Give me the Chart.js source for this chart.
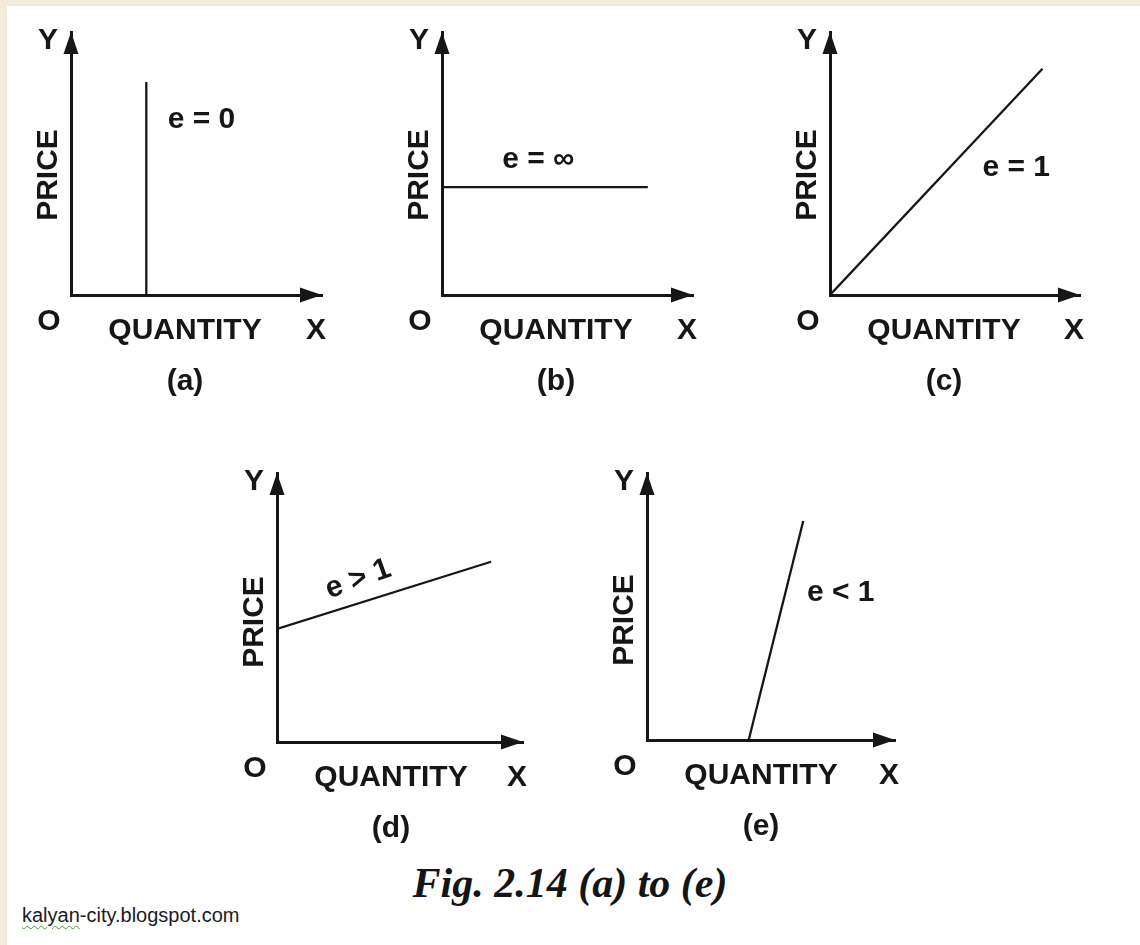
<!DOCTYPE html>
<html>
<head>
<meta charset="utf-8">
<title>Fig. 2.14 (a) to (e)</title>
<script src="https://cdn.jsdelivr.net/npm/chart.js"></script>
<style>
  html, body { margin: 0; padding: 0; }
  body {
    width: 1140px;
    height: 945px;
    background: #ffffff;
    position: relative;
    overflow: hidden;
  }
  .edge-top { position: absolute; left: 0; top: 0; width: 1140px; height: 6px; background: #f4ecda; }
  .edge-left { position: absolute; left: 0; top: 0; width: 7px; height: 945px; background: #f4ecda; }
  canvas { position: absolute; }
  .caption {
    position: absolute;
    left: 0;
    width: 1140px;
    top: 862px;
    text-align: center;
    font: italic bold 42px "Liberation Serif", serif;
    line-height: 1;
    color: #151515;
  }
  .source {
    position: absolute;
    left: 22px;
    top: 905px;
    font: 20px "Liberation Sans", Arial, sans-serif;
    line-height: 1;
    color: #1c1c1c;
  }
  .source .typo {
    text-decoration: underline wavy #4a9a3a;
    text-decoration-thickness: 1px;
    text-underline-offset: 3px;
  }
</style>
</head>
<body>
<div class="edge-top"></div>
<div class="edge-left"></div>
<div class="caption">Fig. 2.14 (a) to (e)</div>
<div class="source"><span class="typo">kalyan</span>-city.blogspot.com</div>

<script>
// axis runs 0..axisMax, axisMax sits at the arrow tips
const axisMax = 10;

// (a) perfectly inelastic
const aQty = [3, 3];
const aPrice = [0, 8.1];
// (b) perfectly elastic
const bQty = [0, 8.2];
const bPrice = [4.1, 4.1];
// (c) unitary
const cQty = [0, 8.5];
const cPrice = [0, 8.6];
// (d) elastic
const dQty = [0, 8.7];
const dPrice = [4.2, 6.7];
// (e) inelastic
const eQty = [4.1, 6.3];
const ePrice = [0, 8.2];

const panelTags = ['(a)', '(b)', '(c)', '(d)', '(e)'];
const curveLabels = ['e = 0', 'e = \u221E', 'e = 1', 'e > 1', 'e < 1'];
const curveLabelQty = [3.85, 2.4, 6.1, 3.3, 6.45];
const curveLabelPrice = [6.65, 5.13, 4.83, 6.05, 5.5];
const curveLabelTilted = [false, false, false, true, false];

const xAxisTitle = 'QUANTITY';
const yAxisTitle = 'PRICE';

const ink = '#161616';

// where each little diagram sits on the page (origin and arrow tips)
const panelBoxes = [
  { ox: 71,  oy: 295, tipX: 322, tipY: 32 },
  { ox: 442, oy: 295, tipX: 693, tipY: 32 },
  { ox: 830, oy: 295, tipX: 1080, tipY: 32 },
  { ox: 277, oy: 742, tipX: 523, tipY: 473 },
  { ox: 647, oy: 740, tipX: 895, tipY: 473 }
];

const seriesQty = [aQty, bQty, cQty, dQty, eQty];
const seriesPrice = [aPrice, bPrice, cPrice, dPrice, ePrice];

const PAD = { left: 50, top: 25, right: 25, bottom: 110 };

// arrows, axis letters and labels
const figureDecor = {
  id: 'figureDecor',
  afterDraw(chart, args, opts) {
    const { ctx } = chart;
    const x = chart.scales.x;
    const y = chart.scales.y;
    const ox = x.getPixelForValue(0);
    const oy = y.getPixelForValue(0);
    const tipX = x.getPixelForValue(axisMax);
    const tipY = y.getPixelForValue(axisMax);

    ctx.save();
    ctx.fillStyle = ink;

    // arrow heads
    ctx.beginPath();
    ctx.moveTo(tipX, oy);
    ctx.lineTo(tipX - 22, oy - 7.5);
    ctx.lineTo(tipX - 22, oy + 7.5);
    ctx.closePath();
    ctx.fill();

    ctx.beginPath();
    ctx.moveTo(ox, tipY);
    ctx.lineTo(ox - 7.5, tipY + 22);
    ctx.lineTo(ox + 7.5, tipY + 22);
    ctx.closePath();
    ctx.fill();

    ctx.font = 'bold 30px "Liberation Sans", Arial, sans-serif';
    ctx.textAlign = 'center';
    ctx.textBaseline = 'middle';
    ctx.fillText('Y', ox - 23, tipY + 9);
    ctx.fillText('O', ox - 22, oy + 27);
    ctx.fillText(xAxisTitle, ox + 114, oy + 36);
    ctx.fillText('X', tipX - 6, oy + 36);
    ctx.fillText(opts.tag, ox + 114, oy + 87);

    ctx.save();
    ctx.translate(ox - 22, oy - 120);
    ctx.rotate(-Math.PI / 2);
    ctx.fillText(yAxisTitle, 0, 0);
    ctx.restore();

    // elasticity label next to the curve
    const lx = x.getPixelForValue(opts.labelQty);
    const ly = y.getPixelForValue(opts.labelPrice);
    if (opts.tilted) {
      const q = opts.qty, p = opts.price;
      const ang = Math.atan2(
        y.getPixelForValue(p[1]) - y.getPixelForValue(p[0]),
        x.getPixelForValue(q[1]) - x.getPixelForValue(q[0])
      );
      ctx.save();
      ctx.translate(lx, ly);
      ctx.rotate(ang - 0.04);
      ctx.fillText(opts.text, 0, 0);
      ctx.restore();
    } else {
      ctx.textAlign = 'left';
      ctx.fillText(opts.text, lx, ly);
    }
    ctx.restore();
  }
};

const bareAxis = {
  type: 'linear',
  min: 0,
  max: axisMax,
  grid: { display: false, drawTicks: false, tickLength: 0 },
  ticks: { display: false },
  border: { display: true, color: ink, width: 3 }
};

panelBoxes.forEach((box, i) => {
  const left = box.ox - PAD.left;
  const top = box.tipY - PAD.top;
  const width = box.tipX + PAD.right - left;
  const height = box.oy + PAD.bottom - top;

  const canvas = document.createElement('canvas');
  canvas.width = width;
  canvas.height = height;
  canvas.style.left = left + 'px';
  canvas.style.top = top + 'px';
  canvas.style.width = width + 'px';
  canvas.style.height = height + 'px';
  document.body.appendChild(canvas);

  const qty = seriesQty[i];
  const price = seriesPrice[i];

  new Chart(canvas, {
    type: 'scatter',
    data: {
      datasets: [{
        label: curveLabels[i],
        data: qty.map((q, k) => ({ x: q, y: price[k] })),
        showLine: true,
        borderColor: ink,
        borderWidth: 2.3,
        pointRadius: 0,
        tension: 0
      }]
    },
    options: {
      responsive: false,
      animation: false,
      layout: { padding: { left: PAD.left, top: PAD.top, right: PAD.right, bottom: PAD.bottom } },
      plugins: {
        legend: { display: false },
        tooltip: { enabled: false },
        figureDecor: {
          tag: panelTags[i],
          text: curveLabels[i],
          labelQty: curveLabelQty[i],
          labelPrice: curveLabelPrice[i],
          tilted: curveLabelTilted[i],
          qty: qty,
          price: price
        }
      },
      scales: {
        x: { ...bareAxis },
        y: { ...bareAxis }
      }
    },
    plugins: [figureDecor]
  });
});
</script>
</body>
</html>
